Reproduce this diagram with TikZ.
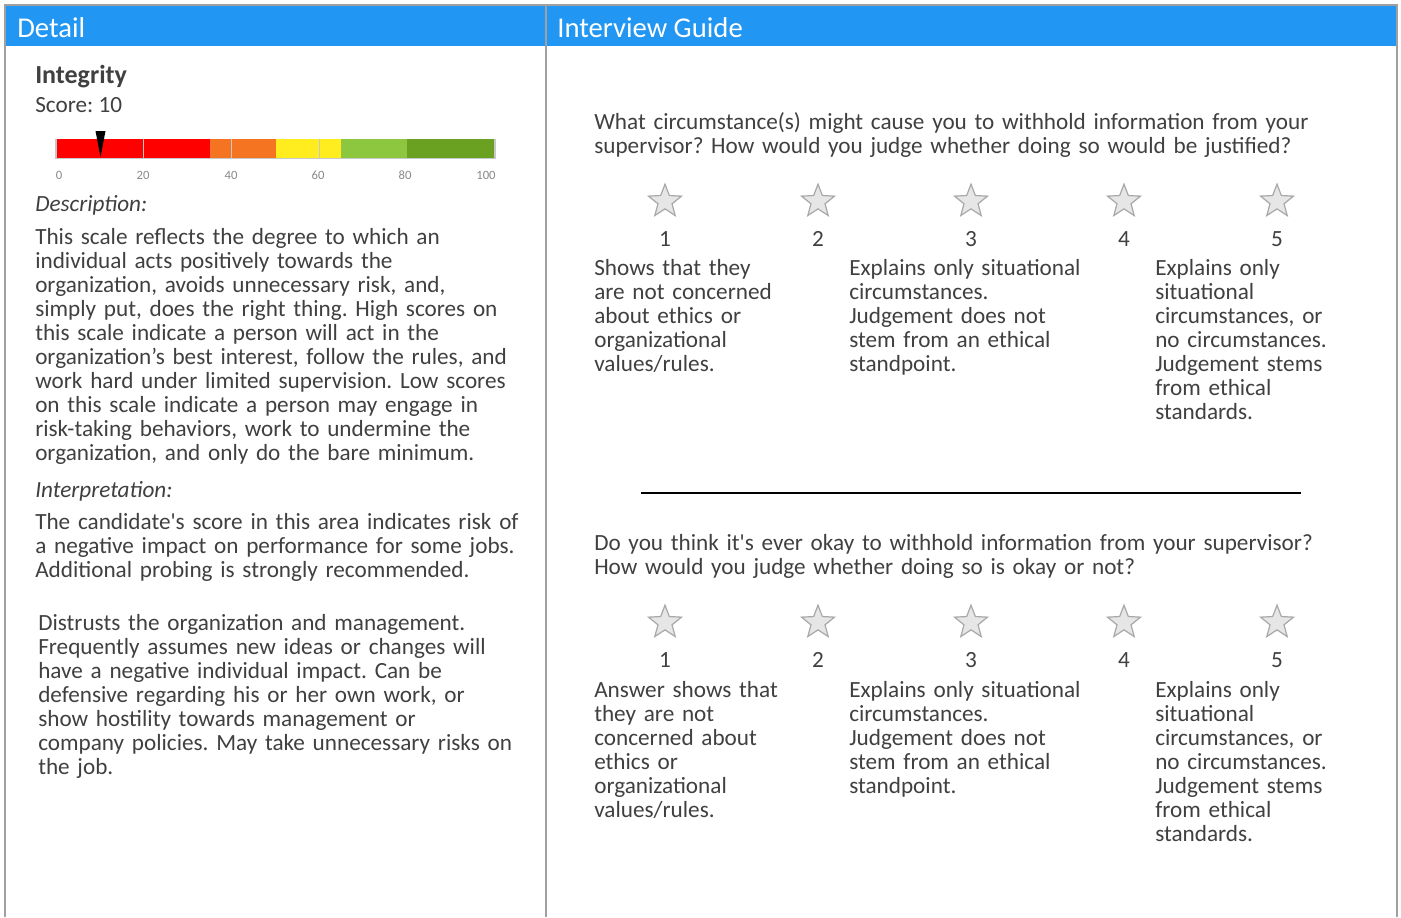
\documentclass[tikz,border=0pt]{standalone}
\usepackage{fontspec}
\setmainfont{Carlito}
\usetikzlibrary{shapes.geometric}
\definecolor{hdrblue}{HTML}{2196F3}
\definecolor{txt}{HTML}{404040}
\definecolor{bordergray}{HTML}{A0A0A0}
\definecolor{segred}{HTML}{FF0000}
\definecolor{segorange}{HTML}{F47421}
\definecolor{segyellow}{HTML}{FFED1F}
\definecolor{seglgreen}{HTML}{8DC63F}
\definecolor{segdgreen}{HTML}{6AA121}
\definecolor{tickgray}{HTML}{C8C8C8}
\definecolor{lblgray}{HTML}{8A8A8A}
\definecolor{starfill}{HTML}{E6E6E6}
\definecolor{stardraw}{HTML}{A8A8A8}
\frenchspacing
\newcommand\bodyfont{\fontsize{17.4}{18}\selectfont\lineskiplimit=-20pt\relax}
\begin{document}
\begin{tikzpicture}[x=0.75pt,y=-0.75pt,
  border/.style={draw=bordergray,line width=1.5pt},
  hdr/.style={anchor=base west,inner sep=0pt,text=white,font=\fontsize{21.5}{21.5}\selectfont},
  body/.style={anchor=base west,inner sep=0pt,text=txt,font=\bodyfont,align=left,text width=420pt},
  ital/.style={anchor=base west,inner sep=0pt,text=txt,font=\bodyfont\itshape},
  numlbl/.style={anchor=base,inner sep=0pt,text=txt,font=\bodyfont},
  ticklbl/.style={anchor=base,inner sep=0pt,text=lblgray,font=\fontsize{9.5}{9.5}\selectfont},
  starnode/.style={star,star points=5,star point ratio=2.35,minimum size=26pt,inner sep=0pt,fill=starfill,draw=stardraw,line width=0.9pt},
  tickline/.style={draw=tickgray,line width=1pt}]
\useasboundingbox (0,0) rectangle (1401,917);
\fill[white] (0,0) rectangle (1401,917);
% header
\fill[hdrblue] (5,6) rectangle (1397,46);
\draw[border] (5,917) -- (5,5) -- (1397,5) -- (1397,917);
\draw[border] (546,5) -- (546,917);
\node[hdr] (tdetail) at (17,38) {Detail};
\node[hdr] (tguide) at (557,38) {Interview Guide};
% left panel
\node[anchor=base west,inner sep=0pt,text=txt,font=\fontsize{19.5}{19.5}\selectfont\bfseries] (integ) at (35,84) {Integrity};
\node[anchor=base west,inner sep=0pt,text=txt,font=\bodyfont] (score) at (35,113) {Score: 10};
% bar
\fill[segred] (56,139) rectangle (209.7,158);
\fill[segorange] (209.7,139) rectangle (275.5,158);
\fill[segyellow] (275.5,139) rectangle (341.4,158);
\fill[seglgreen] (341.4,139) rectangle (407.2,158);
\fill[segdgreen] (407.2,139) rectangle (495,158);
\draw[tickline] (143.8,139) -- (143.8,158);
\draw[tickline] (231.6,139) -- (231.6,158);
\draw[tickline] (319.4,139) -- (319.4,158);
\draw[tickline] (56,139) -- (56,158.5) -- (495,158.5) -- (495,139);
\fill[black] (95.5,131) -- (105.5,131) -- (100.5,157) -- cycle;
\node[ticklbl] (l0) at (59,179) {0};
\node[ticklbl] (l20) at (143,179) {20};
\node[ticklbl] (l40) at (231,179) {40};
\node[ticklbl] (l60) at (318,179) {60};
\node[ticklbl] (l80) at (405,179) {80};
\node[ticklbl] (l100) at (486,179) {100};
\node[ital] (desch) at (35,211) {Description:};
\node[body] (desc) at (35,244) {This scale reflects the degree to which an\\
individual acts positively towards the\\
organization, avoids unnecessary risk, and,\\
simply put, does the right thing. High scores on\\
this scale indicate a person will act in the\\
organization’s best interest, follow the rules, and\\
work hard under limited supervision. Low scores\\
on this scale indicate a person may engage in\\
risk-taking behaviors, work to undermine the\\
organization, and only do the bare minimum.};
\node[ital] (interph) at (35,497) {Interpretation:};
\node[body] (interp) at (35,529) {The candidate\textquotesingle s score in this area indicates risk of\\
a negative impact on performance for some jobs.\\
Additional probing is strongly recommended.};
\node[body] (distr) at (38,630) {Distrusts the organization and management.\\
Frequently assumes new ideas or changes will\\
have a negative individual impact. Can be\\
defensive regarding his or her own work, or\\
show hostility towards management or\\
company policies. May take unnecessary risks on\\
the job.};
% right panel, question 1
\node[body,text width=560pt] (q1) at (594,129) {What circumstance(s) might cause you to withhold information from your\\
supervisor? How would you judge whether doing so would be justified?};
\foreach \i/\x in {1/665,2/818,3/971,4/1124,5/1277}{
  \node[starnode] (sa\i) at (\x,201.5) {};
  \node[numlbl] (na\i) at (\x,246) {\i};
}
\node[body,text width=200pt] (a1) at (594,275) {Shows that they\\
are not concerned\\
about ethics or\\
organizational\\
values/rules.};
\node[body,text width=200pt] (a3) at (849,275) {Explains only situational\\
circumstances.\\
Judgement does not\\
stem from an ethical\\
standpoint.};
\node[body,text width=200pt] (a5) at (1155,275) {Explains only\\
situational\\
circumstances, or\\
no circumstances.\\
Judgement stems\\
from ethical\\
standards.};
% separator
\coordinate (sepl) at (641,493);
\coordinate (sepr) at (1301,493);
\draw[black,line width=2.2pt] (sepl) -- (sepr);
% question 2
\node[body,text width=560pt] (q2) at (594,550) {Do you think it\textquotesingle s ever okay to withhold information from your supervisor?\\
How would you judge whether doing so is okay or not?};
\foreach \i/\x in {1/665,2/818,3/971,4/1124,5/1277}{
  \node[starnode] (sb\i) at (\x,622.5) {};
  \node[numlbl] (nb\i) at (\x,667) {\i};
}
\node[body,text width=200pt] (b1) at (594,697) {Answer shows that\\
they are not\\
concerned about\\
ethics or\\
organizational\\
values/rules.};
\node[body,text width=200pt] (b3) at (849,697) {Explains only situational\\
circumstances.\\
Judgement does not\\
stem from an ethical\\
standpoint.};
\node[body,text width=200pt] (b5) at (1155,697) {Explains only\\
situational\\
circumstances, or\\
no circumstances.\\
Judgement stems\\
from ethical\\
standards.};
\end{tikzpicture}
\end{document}
